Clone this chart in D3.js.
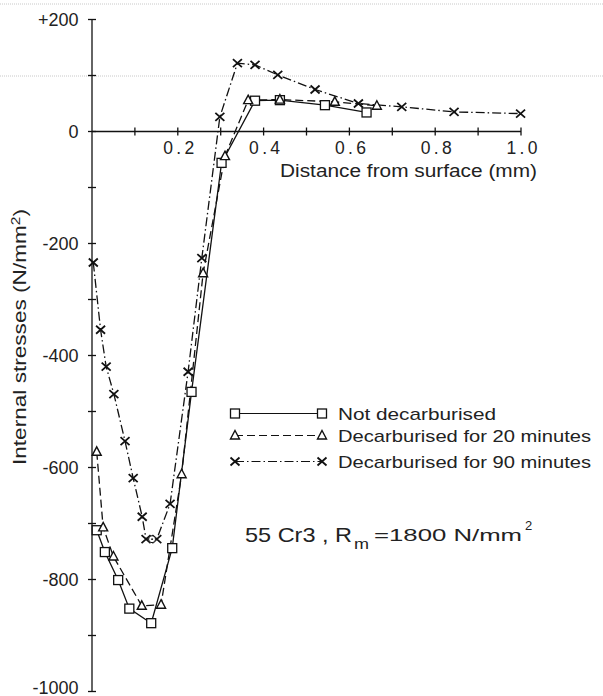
<!DOCTYPE html>
<html><head><meta charset="utf-8">
<script src="https://cdn.jsdelivr.net/npm/d3@7"></script>
<style>
html,body{margin:0;padding:0;background:#fff;}
svg{display:block;}
text{font-family:"Liberation Sans",Arial,Helvetica,sans-serif;fill:#222;}
</style></head>
<body>
<svg id="chart" width="603" height="696"></svg>
<script>
// ---- data (distance mm, internal stress N/mm2) ----
const notDecarbDist  = [0.011,0.030,0.061,0.087,0.138,0.187,0.232,0.302,0.380,0.438,0.543,0.640];
const notDecarbVal   = [-712,-751,-801,-852,-878,-744,-465,-56,55,56,47,34];

const decarb20Dist   = [0.011,0.026,0.050,0.116,0.161,0.209,0.259,0.310,0.364,0.438,0.566,0.664];
const decarb20Val    = [-572,-707,-759,-847,-845,-612,-253,-44,56,57,53,46];

const decarb90Dist   = [0.003,0.020,0.033,0.051,0.077,0.096,0.117,0.126,0.151,0.182,0.224,0.256,0.298,0.339,0.380,0.433,0.520,0.621,0.722,0.844,0.999];
const decarb90Val    = [-234,-354,-420,-469,-553,-619,-688,-728,-728,-665,-429,-226,26,122,119,101,75,50,44,35,32];

const minMarkDist = [0.140];
const minMarkVal  = [-728];

const xTickValues = [0.1,0.2,0.3,0.4,0.5,0.6,0.7,0.8,0.9,1.0];
const xTickLabels = ["0.2","0.4","0.6","0.8","1.0"];
const xLabelValues = [0.2,0.4,0.6,0.8,1.0];
const yTickValues = [-1000,-900,-800,-700,-600,-500,-400,-300,-200,-100,0,100,200];
const yLabelValues = [200,0,-200,-400,-600,-800,-1000];
const yTickLabels = ["+200","0","-200","-400","-600","-800","-1000"];

const seriesNames = ["Not decarburised","Decarburised for 20 minutes","Decarburised for 90 minutes"];

// ---- drawing ----
const svg = d3.select("#chart");
const x = d3.scaleLinear().domain([0,1]).range([92,521]);
const y = d3.scaleLinear().domain([-1000,200]).range([691.5,19.5]);

// faint scan lines
svg.append("line").attr("x1",0).attr("x2",603).attr("y1",4).attr("y2",4)
  .attr("stroke","#c8c8c8").attr("stroke-width",1).attr("stroke-dasharray","1,1");
svg.append("line").attr("x1",0).attr("x2",603).attr("y1",y(100)+0.5).attr("y2",y(100)+0.5)
  .attr("stroke","#c8c8c8").attr("stroke-width",1).attr("stroke-dasharray","1,1");

const ax = svg.append("g").attr("stroke","#111").attr("stroke-width",1.3);
// y axis
ax.append("line").attr("x1",x(0)).attr("x2",x(0)).attr("y1",y(200)).attr("y2",y(-1000));
ax.selectAll(".yt").data(yTickValues).enter().append("line")
  .attr("x1",x(0)-4).attr("x2",x(0)+4).attr("y1",d=>y(d)).attr("y2",d=>y(d));
// x axis
ax.append("line").attr("x1",x(0)).attr("x2",x(1)).attr("y1",y(0)).attr("y2",y(0));
ax.selectAll(".xt").data(xTickValues).enter().append("line")
  .attr("x1",d=>x(d)).attr("x2",d=>x(d)).attr("y1",y(0)-4).attr("y2",y(0)+4);

// tick labels
svg.selectAll(".xl").data(xLabelValues).enter().append("text")
  .attr("x",d=>x(d)+1).attr("y",y(0)+22).attr("text-anchor","middle")
  .attr("font-size",17.5).attr("textLength",31).attr("lengthAdjust","spacing")
  .text((d,i)=>xTickLabels[i]);
svg.selectAll(".yl").data(yLabelValues).enter().append("text")
  .attr("x",78.5).attr("y",d=>Math.min(y(d)+6,693.5)).attr("text-anchor","end")
  .attr("font-size",18).text((d,i)=>yTickLabels[i]);

// axis titles
svg.append("text").attr("x",280).attr("y",177).attr("font-size",17.5)
  .attr("textLength",257).attr("lengthAdjust","spacingAndGlyphs")
  .text("Distance from surface (mm)");
const yt = svg.append("text").attr("transform","translate(26,337) rotate(-90)")
  .attr("text-anchor","middle").attr("font-size",17.5)
  .attr("textLength",256).attr("lengthAdjust","spacingAndGlyphs");
yt.append("tspan").text("Internal stresses (N/mm");
yt.append("tspan").attr("dy",-6).attr("font-size",12).text("2");
yt.append("tspan").attr("dy",6).text(")");

// series
const mk = (xs,vs)=>xs.map((d,i)=>({d:d,v:vs[i]}));
const series = [
  {pts:mk(notDecarbDist,notDecarbVal), dash:null, mark:"sq"},
  {pts:mk(decarb20Dist,decarb20Val), dash:"8,4", mark:"tri"},
  {pts:mk(decarb90Dist,decarb90Val), dash:"9,3,1.5,3", mark:"x"}
];
const line = d3.line().x(p=>x(p.d)).y(p=>y(p.v));

function drawMarker(g, type, cx, cy){
  if(type==="sq"){
    g.append("rect").attr("x",cx-4.5).attr("y",cy-4.5).attr("width",9).attr("height",9)
      .attr("fill","#fff").attr("stroke","#111").attr("stroke-width",1.3);
  } else if(type==="tri"){
    g.append("path").attr("d",`M${cx},${cy-5}L${cx+4.5},${cy+3.5}L${cx-4.5},${cy+3.5}Z`)
      .attr("fill","#fff").attr("stroke","#111").attr("stroke-width",1.4);
  } else {
    g.append("path").attr("d",`M${cx-4.5},${cy-4}L${cx+4.5},${cy+4}M${cx-4.5},${cy+4}L${cx+4.5},${cy-4}`)
      .attr("fill","none").attr("stroke","#111").attr("stroke-width",1.8);
  }
}

series.forEach(s=>{
  const p = svg.append("path").attr("d",line(s.pts)).attr("fill","none")
    .attr("stroke","#111").attr("stroke-width",1.3);
  if(s.dash) p.attr("stroke-dasharray",s.dash);
});
series.forEach(s=>{
  const g = svg.append("g");
  s.pts.forEach(p=>drawMarker(g,s.mark,x(p.d),y(p.v)));
});
// small circle at minimum of 90-min curve
mk(minMarkDist,minMarkVal).forEach(p=>{
  svg.append("circle").attr("cx",x(p.d)).attr("cy",y(p.v)).attr("r",3.5)
    .attr("fill","#fff").attr("stroke","#111").attr("stroke-width",1);
  svg.append("circle").attr("cx",x(p.d)).attr("cy",y(p.v)).attr("r",0.9).attr("fill","#111");
});

// legend
const legY = [413.5,435.5,461.5];
series.forEach((s,i)=>{
  const g = svg.append("g");
  const l = g.append("line").attr("x1",235).attr("x2",322).attr("y1",legY[i]).attr("y2",legY[i])
    .attr("stroke","#111").attr("stroke-width",1.2);
  if(s.dash) l.attr("stroke-dasharray",s.dash);
  drawMarker(g,s.mark,235,legY[i]);
  drawMarker(g,s.mark,322,legY[i]);
  g.append("text").attr("x",338).attr("y",legY[i]+6).attr("font-size",17)
    .attr("textLength", i===0?158:253).attr("lengthAdjust","spacingAndGlyphs")
    .text(seriesNames[i]);
});

// material annotation
svg.append("text").attr("x",245).attr("y",542).attr("font-size",21)
  .attr("font-weight",300).attr("textLength",107).attr("lengthAdjust","spacingAndGlyphs")
  .text("55 Cr3 , R");
svg.append("text").attr("x",354).attr("y",549).attr("font-size",15)
  .attr("textLength",15).attr("lengthAdjust","spacingAndGlyphs").text("m");
svg.append("text").attr("x",374).attr("y",541).attr("font-size",16.5)
  .attr("textLength",148).attr("lengthAdjust","spacingAndGlyphs").text("=1800 N/mm");
svg.append("text").attr("x",525).attr("y",530).attr("font-size",13).text("2");
</script>
</body></html>
